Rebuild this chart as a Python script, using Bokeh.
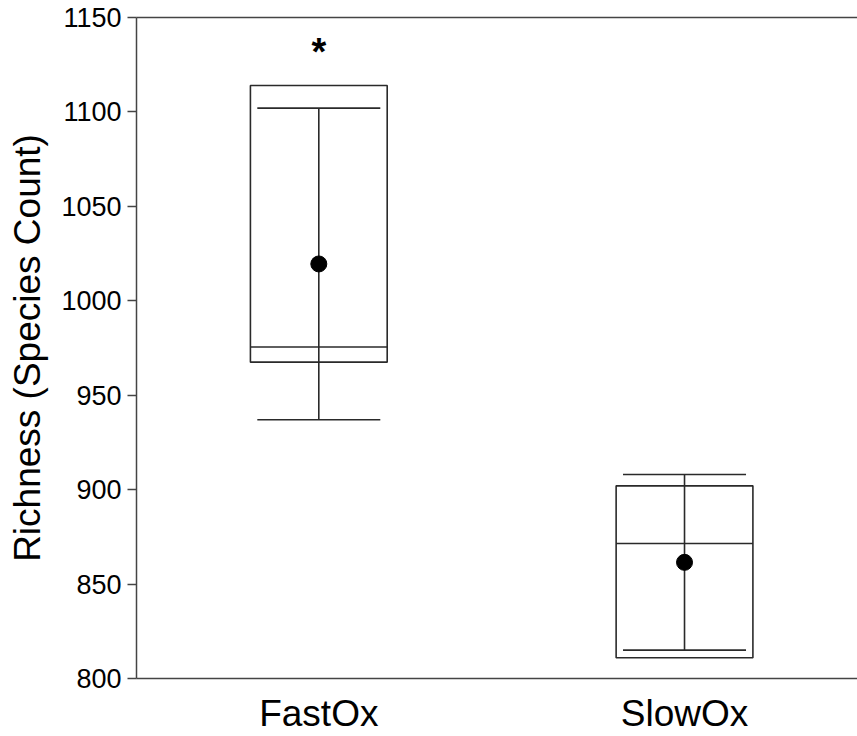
from bokeh.plotting import figure
from bokeh.models import FixedTicker, LinearAxis, Range1d
from bokeh.core.properties import value
from bokeh.embed import file_html
from bokeh.resources import INLINE

# ---- data ----
groups = ["FastOx", "SlowOx"]
box_top = [1114.0, 902.0]
box_bottom = [967.5, 811.0]
median = [975.5, 871.5]
whisker_hi = [1102.0, 908.0]
whisker_lo = [937.0, 815.0]
means = [1019.5, 861.5]
sig_marks = ["*", ""]
sig_y = [1131.5, 0]
y_ticks = [800, 850, 900, 950, 1000, 1050, 1100, 1150]

xpos = list(range(1, len(groups) + 1))
line_col = "#2a2a2a"

p = figure(width=857, height=736, output_backend="svg", toolbar_location=None,
           x_range=Range1d(0.5015, 2.473), y_range=Range1d(800, 1150),
           min_border_left=136, min_border_right=0, min_border_top=17,
           min_border_bottom=0, x_axis_location=None, y_axis_location=None)
p.outline_line_color = None
p.xgrid.visible = False
p.ygrid.visible = False
p.background_fill_color = "white"
p.border_fill_color = "white"

# y axis
yax = LinearAxis(ticker=FixedTicker(ticks=y_ticks))
yax.axis_label = "Richness (Species Count)"
yax.axis_label_text_font = "Liberation Sans"
yax.axis_label_text_font_size = "37px"
yax.axis_label_text_font_style = "normal"
yax.axis_label_text_color = "black"
yax.axis_label_standoff = 10
yax.major_label_text_font = "Liberation Sans"
yax.major_label_text_font_size = "27px"
yax.major_label_text_color = "black"
yax.major_label_standoff = 6
yax.major_tick_out = 9
yax.major_tick_in = 0
yax.minor_tick_out = 0
yax.minor_tick_in = 0
yax.axis_line_color = "#444444"
yax.axis_line_width = 1.5
yax.major_tick_line_color = "#444444"
yax.major_tick_line_width = 1.5
p.add_layout(yax, "left")

# x axis
xax = LinearAxis(ticker=FixedTicker(ticks=xpos),
                 major_label_overrides={x: g for x, g in zip(xpos, groups)})
xax.major_label_text_font = "Liberation Sans"
xax.major_label_text_font_size = "37px"
xax.major_label_text_color = "black"
xax.major_label_standoff = 14
xax.major_tick_out = 0
xax.major_tick_in = 0
xax.minor_tick_out = 0
xax.minor_tick_in = 0
xax.axis_line_color = "#444444"
xax.axis_line_width = 1.5
p.add_layout(xax, "below")

# top frame line
tax = LinearAxis(ticker=FixedTicker(ticks=[]))
tax.major_label_text_font_size = "0px"
tax.major_label_standoff = 0
tax.major_tick_out = 0
tax.major_tick_in = 0
tax.minor_tick_out = 0
tax.minor_tick_in = 0
tax.axis_line_color = "#444444"
tax.axis_line_width = 1.5
p.add_layout(tax, "above")

# boxes
p.vbar(x=xpos, width=0.374, top=box_top, bottom=box_bottom,
       fill_color=None, line_color=line_col, line_width=1.6)
# median lines
p.scatter(x=xpos, y=median, marker="dash", size=137,
          line_color=line_col, line_width=1.6)
# whisker vertical
p.segment(x0=xpos, y0=whisker_lo, x1=xpos, y1=whisker_hi,
          line_color=line_col, line_width=1.6)
# whisker caps
p.scatter(x=xpos, y=whisker_hi, marker="dash", size=123,
          line_color=line_col, line_width=1.6)
p.scatter(x=xpos, y=whisker_lo, marker="dash", size=123,
          line_color=line_col, line_width=1.6)
# means
p.scatter(x=xpos, y=means, marker="circle", size=16,
          fill_color="black", line_color="black")
# significance marker
p.text(x=xpos, y=sig_y, text=sig_marks, text_align="center",
       text_baseline="middle", text_font=value("Liberation Sans"),
       text_font_style="bold", text_font_size="38px", text_color="black")

open("out.html", "w").write(file_html(p, INLINE))
